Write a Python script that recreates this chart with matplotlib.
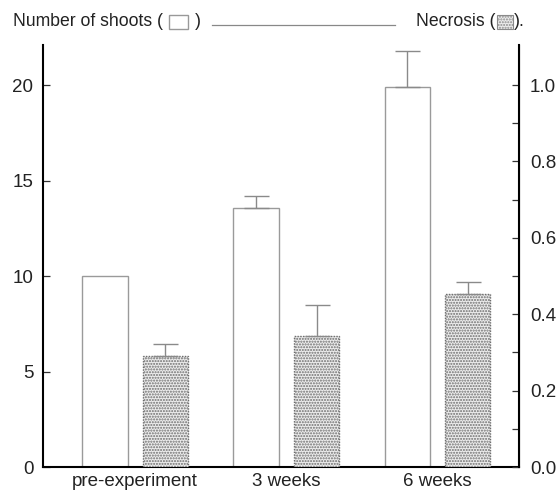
import matplotlib
matplotlib.use('Agg')
import matplotlib.pyplot as plt
from matplotlib.patches import Rectangle
from matplotlib.lines import Line2D
import numpy as np

# values
CATEGORIES   = ['pre-experiment', '3 weeks', '6 weeks']
SHOOTS       = [10.0, 13.55, 19.9]
SHOOTS_ERR   = [0.0, 0.65, 1.9]
NECROSIS     = [0.291, 0.342, 0.454]
NECROSIS_ERR = [0.030, 0.082, 0.031]

LEFT_TICKS   = [0, 5, 10, 15, 20]
RIGHT_TICKS  = [0.0, 0.1, 0.2, 0.3, 0.4, 0.5, 0.6, 0.7, 0.8, 0.9, 1.0]

LEFT_MAX  = 22.1
RIGHT_MAX = 1.105

plt.rcParams.update({
    'font.family': ['Liberation Sans', 'DejaVu Sans'],
    'font.size':   13.5,
    'hatch.color': '#b4b4b4',
})

fig = plt.figure(figsize=(5.59, 4.95), dpi=100)
ax = fig.add_axes([43 / 559, 1 - 467 / 495, 476 / 559, 422 / 495])
ax2 = ax.twinx()

x = np.arange(len(CATEGORIES))
w = 0.30
off = 0.20

ax.bar(x - off, SHOOTS, w, color='white', edgecolor='#9a9a9a',
       linewidth=1.0, zorder=2)
ax.errorbar(x[1:] - off, SHOOTS[1:], yerr=[[0, 0], SHOOTS_ERR[1:]],
            fmt='none', ecolor='#8a8a8a', elinewidth=1.0,
            capsize=9, capthick=1.0, zorder=3)

ax2.bar(x + off, NECROSIS, w, color='#ececec', edgecolor='#6e6e6e',
        linewidth=1.0, linestyle=(0, (1, 1)), hatch='......', zorder=2)
ax2.errorbar(x + off, NECROSIS, yerr=[[0] * 3, NECROSIS_ERR],
             fmt='none', ecolor='#8a8a8a', elinewidth=1.0,
             capsize=9, capthick=1.0, zorder=3)

ax.set_xlim(-0.61, 2.54)
ax.set_ylim(0, LEFT_MAX)
ax2.set_ylim(0, RIGHT_MAX)

ax.set_yticks(LEFT_TICKS)
ax.tick_params(axis='y', direction='in', length=5, width=0.9,
               pad=7, labelsize=13.5, colors='#333333', labelcolor='#222222')

ax2.set_yticks(RIGHT_TICKS)
ax2.set_yticklabels([f'{t:.1f}' if round(t * 10) % 2 == 0 else ''
                     for t in RIGHT_TICKS])
ax2.tick_params(axis='y', direction='in', length=5, width=0.9,
                pad=8, labelsize=13.5, colors='#333333', labelcolor='#222222')

ax.set_xticks(x)
ax.set_xticklabels(CATEGORIES)
ax.tick_params(axis='x', length=0, pad=4, labelsize=13.5, labelcolor='#222222')

for a in (ax, ax2):
    a.spines['top'].set_visible(False)
ax.spines['left'].set_linewidth(1.5)
ax.spines['bottom'].set_linewidth(1.5)
ax2.spines['right'].set_linewidth(1.5)
ax2.spines['left'].set_visible(False)
ax2.spines['bottom'].set_visible(False)


# header caption acting as legend
def px(xp, yp):
    return xp / 559, 1 - yp / 495


HEAD_FS = 12.7
fig.text(*px(13, 22), 'Number of shoots (', ha='left', va='center',
         fontsize=HEAD_FS, color='#222222')
fig.patches.append(Rectangle(px(169, 29), 19 / 559, 14 / 495,
                             transform=fig.transFigure, facecolor='white',
                             edgecolor='#999999', linewidth=1.0))
fig.text(*px(195, 22), ')', ha='left', va='center',
         fontsize=HEAD_FS, color='#222222')
fig.lines.append(Line2D([212 / 559, 395 / 559], [1 - 25 / 495] * 2,
                        transform=fig.transFigure, color='#888888', lw=0.9))
fig.text(*px(496, 22), 'Necrosis (', ha='right', va='center',
         fontsize=HEAD_FS, color='#222222')
fig.patches.append(Rectangle(px(497, 29), 16 / 559, 14 / 495,
                             transform=fig.transFigure, facecolor='#ececec',
                             edgecolor='#8a8a8a', linewidth=0.8,
                             hatch='......'))
fig.text(*px(514, 22), ').', ha='left', va='center',
         fontsize=HEAD_FS, color='#222222')

fig.savefig('out.png', dpi=100)
